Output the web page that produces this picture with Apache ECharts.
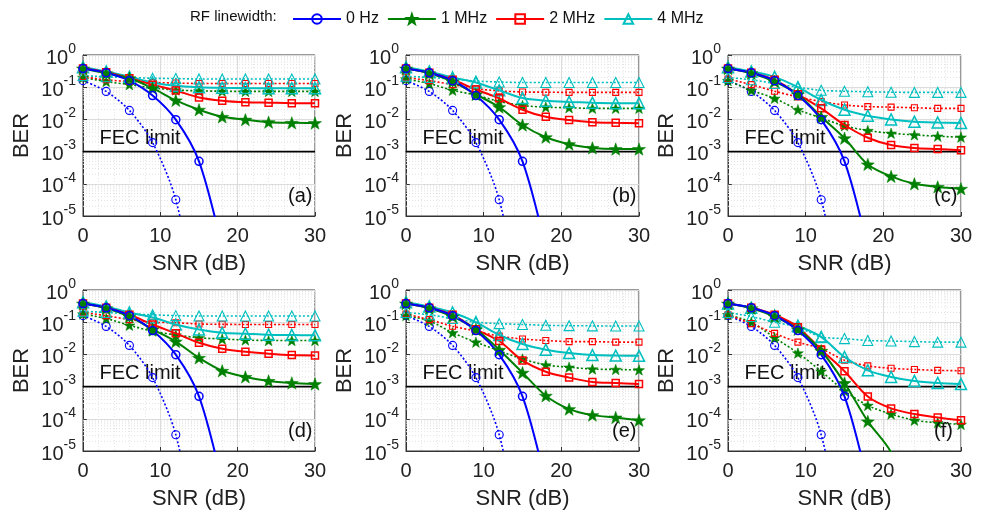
<!DOCTYPE html>
<html><head><meta charset="utf-8">
<script src="https://cdn.jsdelivr.net/npm/echarts@6/dist/echarts.min.js"></script>
<style>html,body{margin:0;padding:0;background:#fff}#c{width:988px;height:511px}</style>
</head><body><div id="c"></div>
<script>
// ---------- data ----------
const snr = [0, 3, 6, 9, 12, 15, 18, 21, 24, 27, 30];
const legendNames = ['0 Hz', '1 MHz', '2 MHz', '4 MHz'];
const panelLabels = ['(a)', '(b)', '(c)', '(d)', '(e)', '(f)'];
const fecLimit = 1e-3;

// 0 Hz (same in all panels); trailing values lie below the 1e-5 axis floor
const hz0Solid  = [0.38, 0.28, 0.16, 0.055, 0.0098, 5e-4, 1e-6];
const hz0Dotted = [0.16, 0.074, 0.019, 1.9e-3, 3.2e-5, 1e-8];

// panel (a)
const a1Solid  = [0.38, 0.27, 0.19, 0.093, 0.039, 0.02, 0.012, 0.0098, 0.0082, 0.0078, 0.0077];
const a2Solid  = [0.38, 0.29, 0.19, 0.12, 0.079, 0.048, 0.038, 0.034, 0.033, 0.032, 0.032];
const a4Solid  = [0.42, 0.31, 0.21, 0.14, 0.11, 0.1, 0.096, 0.094, 0.093, 0.093, 0.093];
const a1Dotted = [0.2, 0.15, 0.12, 0.095, 0.082, 0.077, 0.075, 0.074, 0.074, 0.074, 0.074];
const a2Dotted = [0.21, 0.17, 0.15, 0.14, 0.135, 0.13, 0.13, 0.13, 0.13, 0.13, 0.13];
const a4Dotted = [0.23, 0.21, 0.2, 0.19, 0.185, 0.18, 0.18, 0.18, 0.18, 0.18, 0.18];
// panel (b)
const b1Solid  = [0.38, 0.27, 0.15, 0.06, 0.024, 0.0067, 0.0028, 0.0017, 0.0013, 0.0012, 0.0012];
const b2Solid  = [0.38, 0.28, 0.17, 0.085, 0.045, 0.02, 0.012, 0.0095, 0.0082, 0.0078, 0.0076];
const b4Solid  = [0.42, 0.31, 0.2, 0.14, 0.08, 0.046, 0.038, 0.035, 0.033, 0.032, 0.032];
const b1Dotted = [0.18, 0.13, 0.08, 0.057, 0.036, 0.027, 0.024, 0.023, 0.022, 0.022, 0.022];
const b2Dotted = [0.2, 0.16, 0.12, 0.09, 0.077, 0.071, 0.07, 0.069, 0.069, 0.069, 0.069];
const b4Dotted = [0.22, 0.2, 0.18, 0.155, 0.145, 0.14, 0.14, 0.14, 0.14, 0.14, 0.14];
// panel (c)
const c1Solid  = [0.38, 0.27, 0.15, 0.06, 0.012, 0.0026, 4e-4, 1.7e-4, 1e-4, 8e-5, 7e-5];
const c2Solid  = [0.38, 0.28, 0.17, 0.06, 0.022, 0.0067, 0.0027, 0.0016, 0.0013, 0.0012, 0.0011];
const c4Solid  = [0.42, 0.31, 0.21, 0.1, 0.04, 0.02, 0.013, 0.01, 0.0085, 0.008, 0.0077];
const c1Dotted = [0.16, 0.08, 0.045, 0.02, 0.011, 0.0063, 0.0045, 0.0037, 0.0033, 0.003, 0.0028];
const c2Dotted = [0.18, 0.12, 0.075, 0.05, 0.036, 0.028, 0.025, 0.024, 0.023, 0.022, 0.022];
const c4Dotted = [0.2, 0.17, 0.13, 0.1, 0.08, 0.075, 0.072, 0.07, 0.069, 0.069, 0.069];
// panel (d)
const d1Solid  = [0.38, 0.27, 0.15, 0.06, 0.025, 0.0078, 0.0031, 0.002, 0.0015, 0.0013, 0.0012];
const d2Solid  = [0.38, 0.28, 0.17, 0.085, 0.045, 0.023, 0.015, 0.012, 0.0105, 0.0095, 0.0092];
const d4Solid  = [0.42, 0.31, 0.2, 0.14, 0.085, 0.059, 0.047, 0.044, 0.041, 0.04, 0.039];
const d1Dotted = [0.18, 0.13, 0.08, 0.053, 0.04, 0.033, 0.03, 0.028, 0.027, 0.027, 0.027];
const d2Dotted = [0.2, 0.16, 0.12, 0.1, 0.096, 0.088, 0.086, 0.085, 0.085, 0.085, 0.085];
const d4Dotted = [0.22, 0.2, 0.18, 0.17, 0.16, 0.155, 0.155, 0.155, 0.155, 0.155, 0.155];
// panel (e)
const e1Solid  = [0.38, 0.27, 0.15, 0.06, 0.014, 0.0027, 5.2e-4, 2e-4, 1.3e-4, 1.1e-4, 9e-5];
const e2Solid  = [0.38, 0.28, 0.17, 0.06, 0.026, 0.0065, 0.0029, 0.0019, 0.0014, 0.0013, 0.0012];
const e4Solid  = [0.42, 0.31, 0.2, 0.1, 0.04, 0.021, 0.014, 0.011, 0.0095, 0.0092, 0.009];
const e1Dotted = [0.16, 0.11, 0.047, 0.024, 0.013, 0.0072, 0.0047, 0.004, 0.0035, 0.0034, 0.0033];
const e2Dotted = [0.18, 0.12, 0.075, 0.053, 0.037, 0.03, 0.027, 0.025, 0.025, 0.024, 0.024];
const e4Dotted = [0.2, 0.17, 0.13, 0.1, 0.09, 0.085, 0.08, 0.078, 0.077, 0.076, 0.076];
// panel (f)
const f1Solid  = [0.38, 0.27, 0.15, 0.06, 0.013, 0.0013, 8.3e-5, 9e-6, 1e-7];
const f2Solid  = [0.38, 0.28, 0.17, 0.07, 0.014, 0.003, 4.9e-4, 2.1e-4, 1.4e-4, 1.1e-4, 9e-5];
const f4Solid  = [0.38, 0.28, 0.16, 0.078, 0.035, 0.0083, 0.0032, 0.002, 0.0015, 0.0013, 0.0012];
const f1Dotted = [0.17, 0.1, 0.033, 0.011, 0.003, 7.4e-4, 2.6e-4, 1.4e-4, 9e-5, 7.5e-5, 6.7e-5];
const f2Dotted = [0.17, 0.09, 0.045, 0.024, 0.015, 0.0066, 0.0044, 0.0037, 0.0034, 0.0032, 0.0031];
const f4Dotted = [0.2, 0.15, 0.1, 0.07, 0.035, 0.031, 0.027, 0.026, 0.025, 0.024, 0.024];

const panelSolid = [
  [a1Solid, a2Solid, a4Solid], [b1Solid, b2Solid, b4Solid], [c1Solid, c2Solid, c4Solid],
  [d1Solid, d2Solid, d4Solid], [e1Solid, e2Solid, e4Solid], [f1Solid, f2Solid, f4Solid]];
const panelDotted = [
  [a1Dotted, a2Dotted, a4Dotted], [b1Dotted, b2Dotted, b4Dotted], [c1Dotted, c2Dotted, c4Dotted],
  [d1Dotted, d2Dotted, d4Dotted], [e1Dotted, e2Dotted, e4Dotted], [f1Dotted, f2Dotted, f4Dotted]];

// ---------- styling / layout ----------
const FONT = '"Liberation Sans", Arial, Helvetica, sans-serif';
const colors = ['#0000ff', '#008000', '#ff0000', '#00bfbf'];
const STAR = 'path://M0,-10L2.35,-3.24L9.51,-3.09L3.8,1.24L5.88,8.09L0,4L-5.88,8.09L-3.8,1.24L-9.51,-3.09L-2.35,-3.24Z';
const symbols = ['circle', STAR, 'rect', 'triangle'];
const symSolid = [8, 13, 7, 11];
const symDotted = [8, 11, 6, 10];
const lefts = [83, 406, 728];
const widths = [232, 233, 233];
const tops = [55, 290];
const heights = [161, 161];

const grids = [], xAxes = [], yAxes = [], series = [], titles = [];
const minorY = [];
for (let k = -5; k < 0; k++) for (let m = 2; m <= 9; m++) minorY.push([0, m * Math.pow(10, k)]);

function pairs(vals) { return vals.map((v, i) => [snr[i], v]); }

function lineSeries(p, name, vals, ci, dotted) {
  const filled = ci === 1;
  return {
    type: 'line', name: name, xAxisIndex: p, yAxisIndex: p,
    data: pairs(vals), smooth: 0.3, clip: true,
    symbol: symbols[ci], symbolKeepAspect: true,
    symbolSize: dotted ? symDotted[ci] : symSolid[ci],
    showAllSymbol: true,
    lineStyle: { color: colors[ci], width: dotted ? 1.6 : 2, type: dotted ? [2, 2] : 'solid' },
    itemStyle: filled ? { color: colors[ci], borderColor: colors[ci], borderWidth: 0.5 }
                      : { color: 'rgba(255,255,255,0)', borderColor: colors[ci], borderWidth: dotted ? 1.1 : 1.5 },
    emphasis: { disabled: true }, z: dotted ? 3 : 4, animation: false
  };
}

for (let p = 0; p < 6; p++) {
  const r = Math.floor(p / 3), c = p % 3;
  grids.push({ left: lefts[c], top: tops[r], width: widths[c], height: heights[r],
    show: true, borderColor: '#333', borderWidth: 1, backgroundColor: '#fff' });
  xAxes.push({
    type: 'value', gridIndex: p, min: 0, max: 30, interval: 10,
    name: 'SNR (dB)', nameLocation: 'middle', nameGap: 37,
    nameTextStyle: { fontSize: 22, color: '#222', fontFamily: FONT },
    axisLine: { show: true, onZero: false, lineStyle: { color: '#333' } },
    axisTick: { show: true, inside: true, length: 4, lineStyle: { color: '#333' } },
    axisLabel: { fontSize: 20, color: '#222', fontFamily: FONT, margin: 10 },
    splitLine: { show: true, lineStyle: { color: '#dcdcdc', width: 1 } },
    minorTick: { show: false, splitNumber: 5 },
    minorSplitLine: { show: true, lineStyle: { color: '#e6e6e6', type: [1, 2], width: 1 } }
  });
  yAxes.push({
    type: 'log', logBase: 10, gridIndex: p, min: 1e-5, max: 1, splitNumber: 5,
    name: 'BER', nameLocation: 'middle', nameRotate: 90, nameGap: 50,
    nameTextStyle: { fontSize: 22, color: '#222', fontFamily: FONT },
    axisLine: { show: true, lineStyle: { color: '#333' } },
    axisTick: { show: true, inside: true, length: 4, lineStyle: { color: '#333' } },
    axisLabel: {
      margin: 7, fontFamily: FONT, color: '#222',
      formatter: v => '{b|10}{s|' + Math.round(Math.log10(v)) + '}',
      rich: {
        b: { fontSize: 20, lineHeight: 26, verticalAlign: 'bottom', fontFamily: FONT, color: '#222' },
        s: { fontSize: 14, lineHeight: 14, verticalAlign: 'top', fontFamily: FONT, color: '#222' }
      }
    },
    splitLine: { show: true, lineStyle: { color: '#dcdcdc', width: 1 } }
  });
  // minor log grid lines, drawn through the axis scales
  series.push({
    type: 'custom', xAxisIndex: p, yAxisIndex: p, data: minorY, z: 1, silent: true,
    animation: false, clip: true, encode: { x: 0, y: 1 },
    renderItem: (params, api) => {
      const y = api.value(1);
      const a = api.coord([0, y]), b = api.coord([30, y]);
      return { type: 'line', shape: { x1: a[0], y1: a[1], x2: b[0], y2: b[1] },
        style: { stroke: '#e2e2e2', lineWidth: 1, lineDash: [1, 2] } };
    }
  });
  // FEC limit line
  series.push({
    type: 'line', xAxisIndex: p, yAxisIndex: p, z: 2, silent: true, animation: false,
    data: [
      { value: [0, fecLimit], symbol: 'circle', symbolSize: 1,
        itemStyle: { color: '#000', borderWidth: 0 },
        label: { show: true, position: 'right', distance: 0, offset: [16, -13], formatter: 'FEC limit',
          fontSize: 20, color: '#111', fontFamily: FONT } },
      { value: [30, fecLimit], symbol: 'none' }
    ],
    lineStyle: { color: '#000', width: 1.6 }, emphasis: { disabled: true }
  });
  series.push(lineSeries(p, legendNames[0] + ' ', hz0Dotted, 0, true));
  for (let j = 0; j < 3; j++) series.push(lineSeries(p, legendNames[j + 1] + ' ', panelDotted[p][j], j + 1, true));
  for (let j = 2; j >= 0; j--) series.push(lineSeries(p, legendNames[j + 1], panelSolid[p][j], j + 1, false));
  series.push(lineSeries(p, legendNames[0], hz0Solid, 0, false));

  titles.push({ text: panelLabels[p], padding: 0, left: lefts[c] + widths[c] - 27, top: tops[r] + heights[r] - 30,
    textStyle: { fontSize: 20, fontWeight: 'normal', color: '#111', fontFamily: FONT } });
}

const chart = echarts.init(document.getElementById('c'), null, { renderer: 'canvas' });
chart.setOption({
  backgroundColor: '#fff',
  animation: false,
  title: titles,
  graphic: [{ type: 'text', left: 190, top: 9,
    style: { text: 'RF linewidth:', fontSize: 15, fill: '#111', fontFamily: FONT } }],
  legend: {
    data: legendNames, left: 287, top: 6, itemWidth: 48, itemHeight: 12, itemGap: 8,
    textStyle: { fontSize: 16, color: '#111', fontFamily: FONT }, selectedMode: false
  },
  grid: grids, xAxis: xAxes, yAxis: yAxes, series: series
});
</script></body></html>
